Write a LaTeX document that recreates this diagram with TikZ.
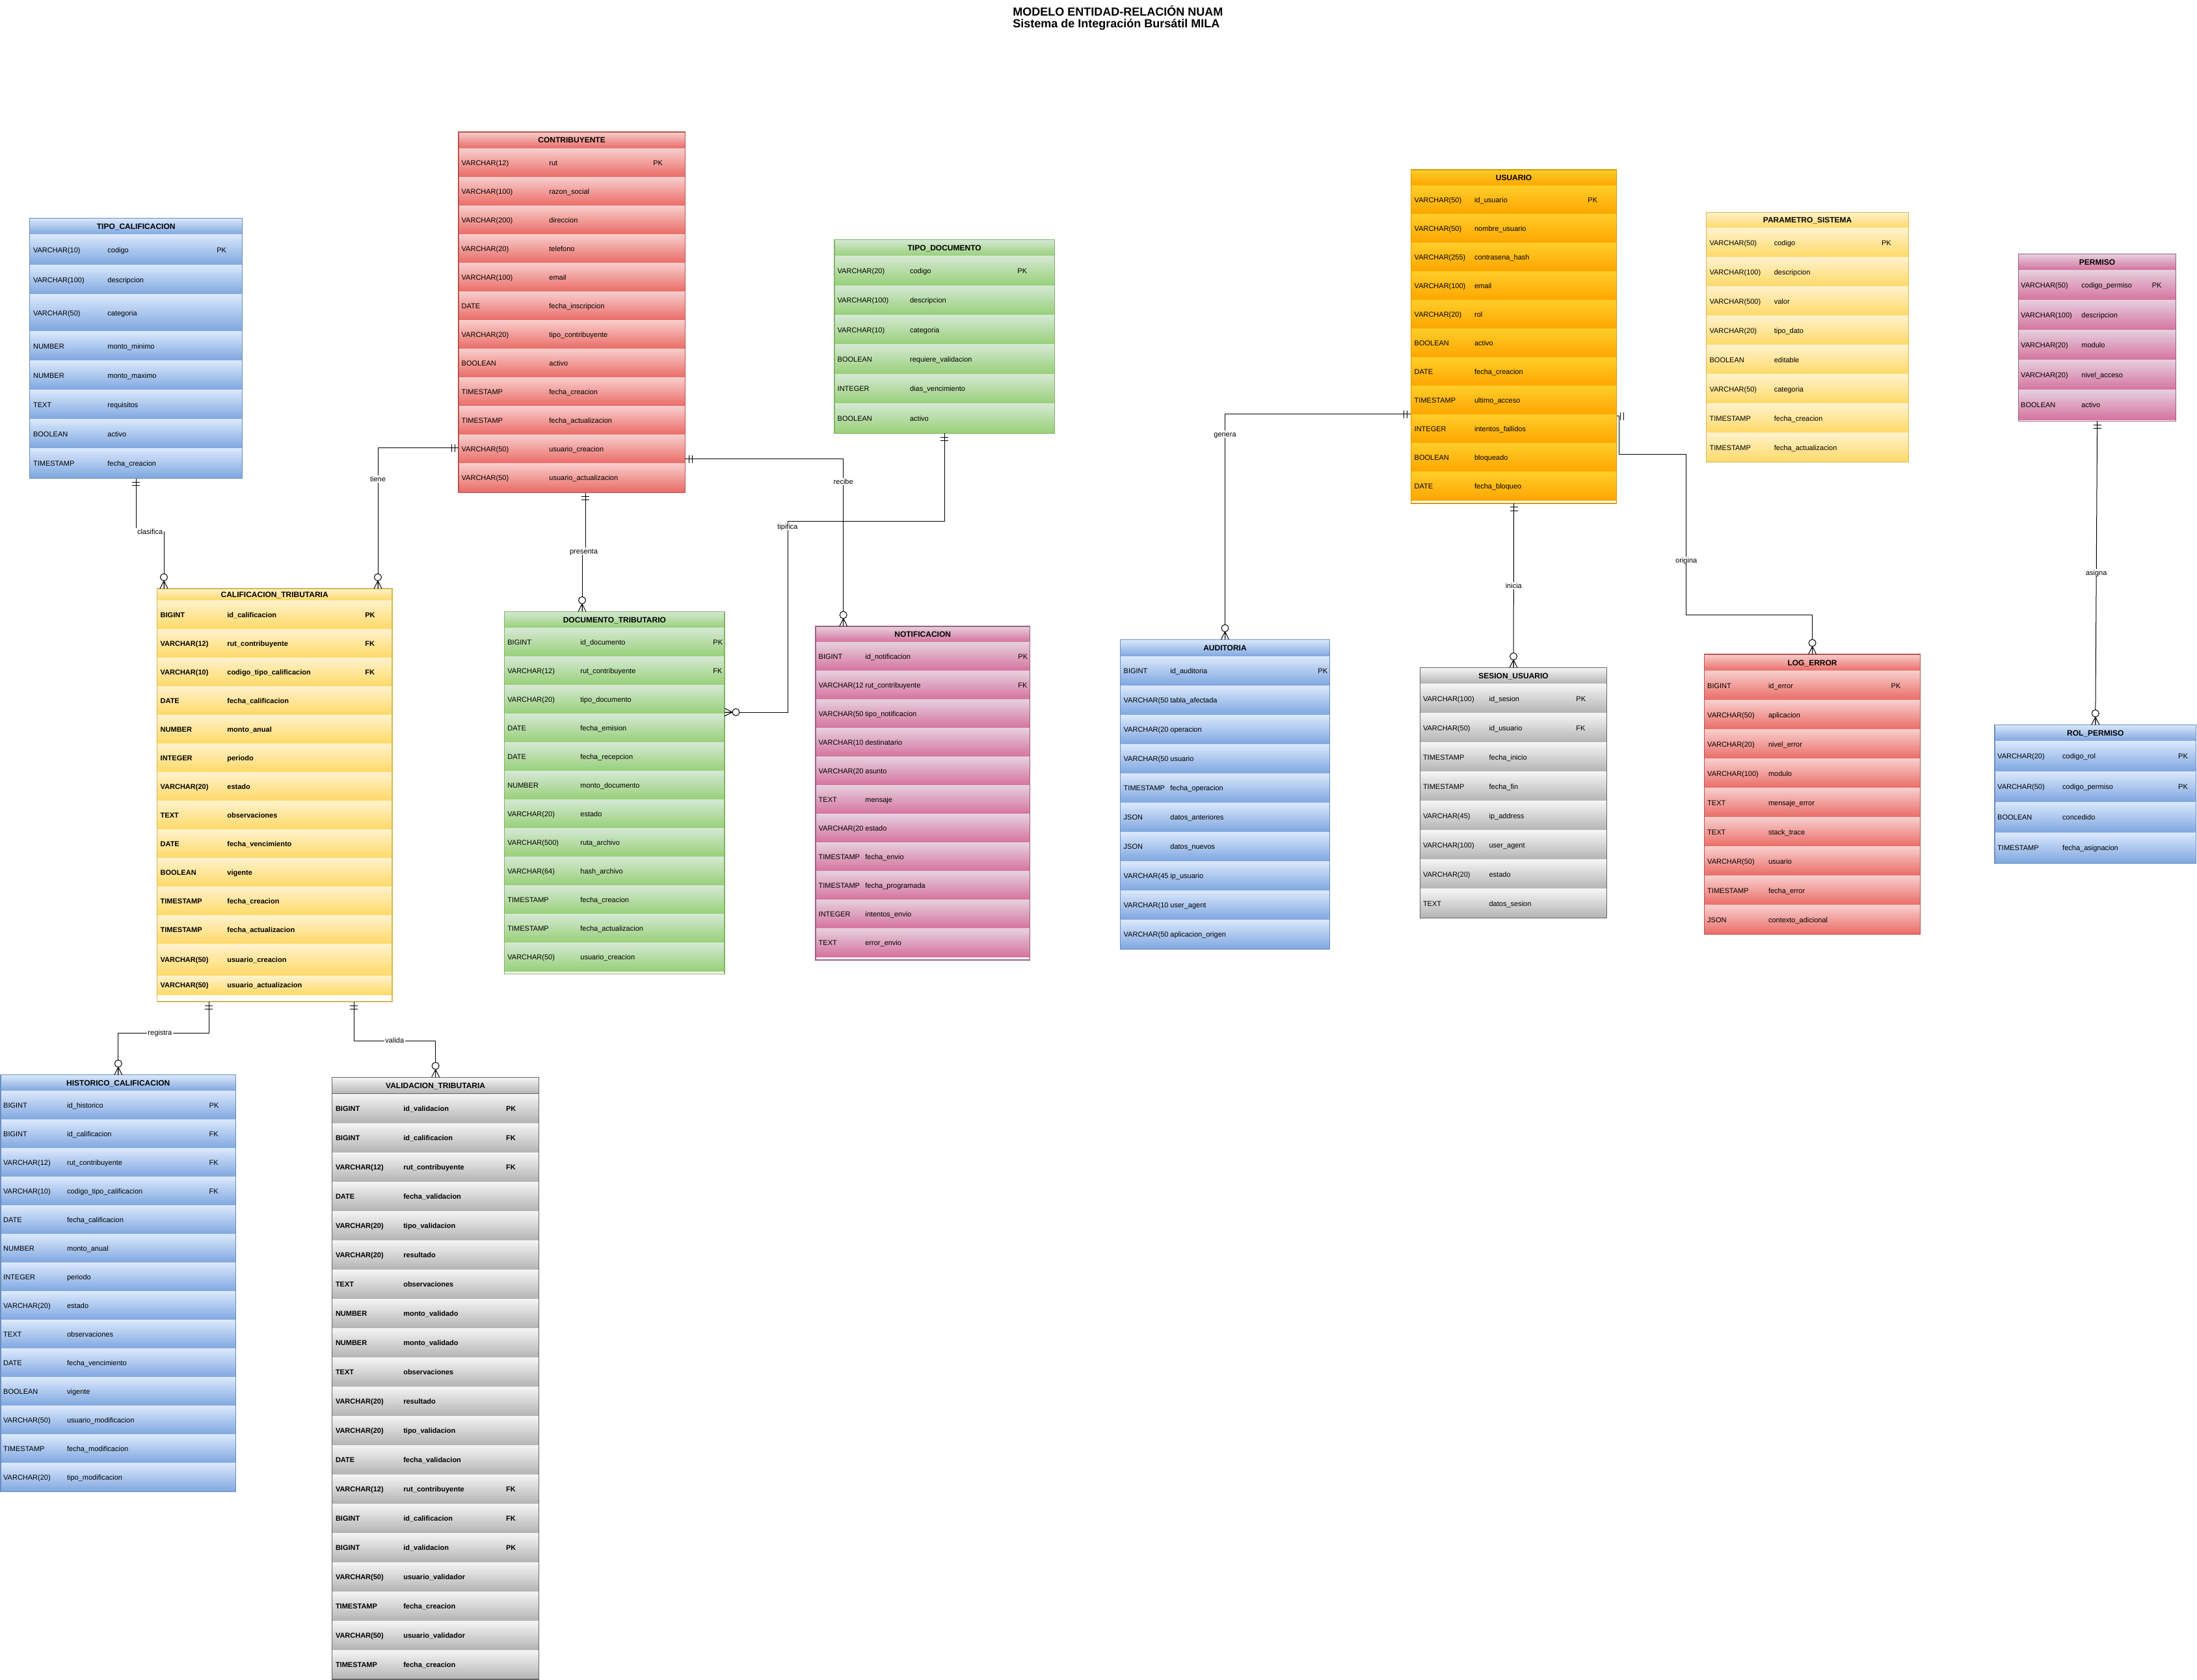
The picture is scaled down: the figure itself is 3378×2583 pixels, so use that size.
\documentclass[tikz,border=0pt]{standalone}
\usepackage{fontspec}
\setmainfont{Liberation Sans}
\usetikzlibrary{calc,fit}

% colour schemes: row gradient top, row gradient bottom, outline
\definecolor{bluetop}{HTML}{DAE8FC}\definecolor{bluebot}{HTML}{7EA6E0}\definecolor{blueline}{HTML}{6C8EBF}
\definecolor{redtop}{HTML}{F8CECC}\definecolor{redbot}{HTML}{EA6B66}\definecolor{redline}{HTML}{B85450}
\definecolor{greentop}{HTML}{D5E8D4}\definecolor{greenbot}{HTML}{97D077}\definecolor{greenline}{HTML}{82B366}
\definecolor{yellowtop}{HTML}{FFF2CC}\definecolor{yellowbot}{HTML}{FFD966}\definecolor{yellowline}{HTML}{D6B656}
\definecolor{orangetop}{HTML}{FFCD28}\definecolor{orangebot}{HTML}{FFA500}\definecolor{orangeline}{HTML}{D79B00}
\definecolor{pinktop}{HTML}{E6D0DE}\definecolor{pinkbot}{HTML}{D5739D}\definecolor{pinkline}{HTML}{996185}
\definecolor{graytop}{HTML}{F5F5F5}\definecolor{graybot}{HTML}{B3B3B3}\definecolor{grayline}{HTML}{666666}

\tikzset{
  er title/.style={font=\bfseries\fontsize{6}{7}\selectfont,inner sep=0pt,text height=4.3pt,text depth=0pt},
  er text/.style={font=\erff\fontsize{5.5}{6.5}\selectfont,anchor=west,inner sep=0pt,text height=3.94pt,text depth=0pt},
  er border/.style={line width=0.55pt},
  er edge/.style={line width=0.5pt,draw=black},
  er label/.style={font=\fontsize{5.5}{6.5}\selectfont,fill=white,inner sep=0.8pt,text height=3.94pt,text depth=0pt},
}

\newcounter{errow}
\newcommand{\erff}{\mdseries}

% start a table: name, title, left, top, width, header height, scheme
\newcommand{\ertab}[7]{%
  \def\tn{#1}\def\tx{#3}\def\ty{#4}\def\tw{#5}%
  \edef\tcolT{#7top}\edef\tcolB{#7bot}\edef\tcolL{#7line}%
  \shade[top color=\tcolT,bottom color=\tcolB] (#3,#4) rectangle ++(#5,#6);
  \draw[draw=\tcolL,er border] (#3,#4+#6) -- ++(#5,0);
  \node[er title] (#1-title) at (#3+#5/2,#4+#6/2) {#2};
  \pgfmathsetmacro\cury{#4+#6}%
  \setcounter{errow}{0}%
}
% one column row: [height], type, name, key
\newcommand{\erfld}[4][\rh]{%
  \stepcounter{errow}%
  \shade[top color=\tcolT,bottom color=\tcolB] (\tx,\cury) rectangle ++(\tw,#1);
  \node[er text] (\tn-\arabic{errow}-a) at (\tx+\ca,\cury+#1/2) {#2};
  \node[er text] (\tn-\arabic{errow}-b) at (\tx+\cb,\cury+#1/2) {#3};
  \node[er text] (\tn-\arabic{errow}-c) at (\tx+\cc,\cury+#1/2) {#4};
  \pgfmathsetmacro\cury{\cury+#1}%
}
% close a table: [extra space below the last row]
\newcommand{\erend}[1][0]{%
  \pgfmathsetmacro\boxb{\cury+#1}%
  \draw[draw=\tcolL,er border] (\tx,\ty) rectangle (\tx+\tw,\boxb);
  \coordinate (\tn-nw) at (\tx,\ty);
  \coordinate (\tn-se) at (\tx+\tw,\boxb);
  \node[fit=(\tn-nw)(\tn-se),inner sep=0pt,outer sep=0pt] (\tn) {};
}
% relationship ends: point, outward direction
\newcommand{\erone}[2]{\begin{scope}[shift={#1},rotate=#2]
  \draw[er edge] (6,-6) -- (6,6) (11,-6) -- (11,6);\end{scope}}
\newcommand{\ermany}[2]{\begin{scope}[shift={#1},rotate=#2]
  \draw[er edge] (0,-6) -- (12,0) -- (0,6) (0,0) -- (12,0);
  \draw[er edge,fill=white] (17.5,0) circle[radius=5.5];\end{scope}}

\begin{document}
\begin{tikzpicture}[x=0.5pt,y=-0.5pt]
\useasboundingbox (0,0) rectangle (3378,2583);
\fill[white] (0,0) rectangle (3378,2583);

\node[anchor=base west,font=\bfseries\fontsize{9}{10}\selectfont,inner sep=0pt] (title1) at (1557,25) {MODELO ENTIDAD-RELACIÓN NUAM};
\node[anchor=base west,font=\bfseries\fontsize{9}{10}\selectfont,inner sep=0pt] (title2) at (1557,43) {Sistema de Integración Bursátil MILA};

% ---------------- TIPO_CALIFICACION
\def\rh{45}\def\ca{5}\def\cb{119.3}\def\cc{287.3}\let\erff\mdseries
\ertab{tcal}{TIPO\_CALIFICACION}{45.7}{335.7}{327}{25}{blue}
\erfld[47]{VARCHAR(10)}{codigo}{PK}
\erfld{VARCHAR(100)}{descripcion}{}
\erfld[57]{VARCHAR(50)}{categoria}{}
\erfld{NUMBER}{monto\_minimo}{}
\erfld{NUMBER}{monto\_maximo}{}
\erfld{TEXT}{requisitos}{}
\erfld{BOOLEAN}{activo}{}
\erfld{TIMESTAMP}{fecha\_creacion}{}
\erend[1]

% ---------------- CONTRIBUYENTE
\def\rh{44}\def\ca{4.3}\def\cb{139}\def\cc{299}\let\erff\mdseries
\ertab{contrib}{CONTRIBUYENTE}{705}{203}{348.3}{25.4}{red}
\erfld{VARCHAR(12)}{rut}{PK}
\erfld{VARCHAR(100)}{razon\_social}{}
\erfld{VARCHAR(200)}{direccion}{}
\erfld{VARCHAR(20)}{telefono}{}
\erfld{VARCHAR(100)}{email}{}
\erfld{DATE}{fecha\_inscripcion}{}
\erfld{VARCHAR(20)}{tipo\_contribuyente}{}
\erfld{BOOLEAN}{activo}{}
\erfld{TIMESTAMP}{fecha\_creacion}{}
\erfld{TIMESTAMP}{fecha\_actualizacion}{}
\erfld{VARCHAR(50)}{usuario\_creacion}{}
\erfld{VARCHAR(50)}{usuario\_actualizacion}{}
\erend[1.5]

% ---------------- CALIFICACION_TRIBUTARIA
\def\rh{44}\def\ca{5}\def\cb{107.7}\def\cc{319.7}\let\erff\bfseries
\ertab{calif}{CALIFICACION\_TRIBUTARIA}{241.3}{905}{361.7}{18.5}{yellow}
\erfld{BIGINT}{id\_calificacion}{PK}
\erfld{VARCHAR(12)}{rut\_contribuyente}{FK}
\erfld{VARCHAR(10)}{codigo\_tipo\_calificacion}{FK}
\erfld{DATE}{fecha\_calificacion}{}
\erfld{NUMBER}{monto\_anual}{}
\erfld{INTEGER}{periodo}{}
\erfld{VARCHAR(20)}{estado}{}
\erfld{TEXT}{observaciones}{}
\erfld{DATE}{fecha\_vencimiento}{}
\erfld{BOOLEAN}{vigente}{}
\erfld{TIMESTAMP}{fecha\_creacion}{}
\erfld{TIMESTAMP}{fecha\_actualizacion}{}
\erfld[49]{VARCHAR(50)}{usuario\_creacion}{}
\erfld[29]{VARCHAR(50)}{usuario\_actualizacion}{}
\erend[10.5]

% ---------------- DOCUMENTO_TRIBUTARIO
\def\rh{44}\def\ca{4.3}\def\cb{116.3}\def\cc{320.3}\let\erff\mdseries
\ertab{doc}{DOCUMENTO\_TRIBUTARIO}{775.7}{940.4}{338.3}{25.2}{green}
\erfld{BIGINT}{id\_documento}{PK}
\erfld{VARCHAR(12)}{rut\_contribuyente}{FK}
\erfld{VARCHAR(20)}{tipo\_documento}{}
\erfld{DATE}{fecha\_emision}{}
\erfld{DATE}{fecha\_recepcion}{}
\erfld{NUMBER}{monto\_documento}{}
\erfld{VARCHAR(20)}{estado}{}
\erfld{VARCHAR(500)}{ruta\_archivo}{}
\erfld{VARCHAR(64)}{hash\_archivo}{}
\erfld{TIMESTAMP}{fecha\_creacion}{}
\erfld{TIMESTAMP}{fecha\_actualizacion}{}
\erfld{VARCHAR(50)}{usuario\_creacion}{}
\erend[3.5]

% ---------------- TIPO_DOCUMENTO
\def\rh{45.4}\def\ca{4.3}\def\cb{115.7}\def\cc{281}\let\erff\mdseries
\ertab{tdoc}{TIPO\_DOCUMENTO}{1283}{368.7}{338.3}{25}{green}
\erfld{VARCHAR(20)}{codigo}{PK}
\erfld{VARCHAR(100)}{descripcion}{}
\erfld{VARCHAR(10)}{categoria}{}
\erfld{BOOLEAN}{requiere\_validacion}{}
\erfld{INTEGER}{dias\_vencimiento}{}
\erfld{BOOLEAN}{activo}{}
\erend

% ---------------- NOTIFICACION
\def\rh{44}\def\ca{4.3}\def\cb{76}\def\cc{311}\let\erff\mdseries
\ertab{notif}{NOTIFICACION}{1254}{963}{329.3}{24.3}{pink}
\erfld{BIGINT}{id\_notificacion}{PK}
\erfld{VARCHAR(12}{rut\_contribuyente}{FK}
\erfld{VARCHAR(50}{tipo\_notificacion}{}
\erfld{VARCHAR(10}{destinatario}{}
\erfld{VARCHAR(20}{asunto}{}
\erfld{TEXT}{mensaje}{}
\erfld{VARCHAR(20}{estado}{}
\erfld{TIMESTAMP}{fecha\_envio}{}
\erfld{TIMESTAMP}{fecha\_programada}{}
\erfld{INTEGER}{intentos\_envio}{}
\erfld{TEXT}{error\_envio}{}
\erend[4.7]

% ---------------- AUDITORIA
\def\rh{45}\def\ca{4.6}\def\cb{76.3}\def\cc{303.3}\let\erff\mdseries
\ertab{audit}{AUDITORIA}{1722.7}{983.3}{321.6}{26}{blue}
\erfld{BIGINT}{id\_auditoria}{PK}
\erfld{VARCHAR(50}{tabla\_afectada}{}
\erfld{VARCHAR(20}{operacion}{}
\erfld{VARCHAR(50}{usuario}{}
\erfld{TIMESTAMP}{fecha\_operacion}{}
\erfld{JSON}{datos\_anteriores}{}
\erfld{JSON}{datos\_nuevos}{}
\erfld{VARCHAR(45}{ip\_usuario}{}
\erfld{VARCHAR(10}{user\_agent}{}
\erfld{VARCHAR(50}{aplicacion\_origen}{}
\erend

% ---------------- USUARIO
\def\rh{44}\def\ca{5}\def\cb{97.4}\def\cc{271.7}\let\erff\mdseries
\ertab{usuario}{USUARIO}{2169.3}{261}{316.4}{24.8}{orange}
\erfld{VARCHAR(50)}{id\_usuario}{PK}
\erfld{VARCHAR(50)}{nombre\_usuario}{}
\erfld{VARCHAR(255)}{contrasena\_hash}{}
\erfld{VARCHAR(100)}{email}{}
\erfld{VARCHAR(20)}{rol}{}
\erfld{BOOLEAN}{activo}{}
\erfld{DATE}{fecha\_creacion}{}
\erfld{TIMESTAMP}{ultimo\_acceso}{}
\erfld{INTEGER}{intentos\_fallidos}{}
\erfld{BOOLEAN}{bloqueado}{}
\erfld{DATE}{fecha\_bloqueo}{}
\erend[4.2]

% ---------------- PARAMETRO_SISTEMA
\def\rh{45}\def\ca{4.6}\def\cb{103.8}\def\cc{269}\let\erff\mdseries
\ertab{param}{PARAMETRO\_SISTEMA}{2623.6}{326.3}{311}{24.4}{yellow}
\erfld{VARCHAR(50)}{codigo}{PK}
\erfld{VARCHAR(100)}{descripcion}{}
\erfld{VARCHAR(500)}{valor}{}
\erfld{VARCHAR(20)}{tipo\_dato}{}
\erfld{BOOLEAN}{editable}{}
\erfld{VARCHAR(50)}{categoria}{}
\erfld{TIMESTAMP}{fecha\_creacion}{}
\erfld{TIMESTAMP}{fecha\_actualizacion}{}
\erend

% ---------------- PERMISO
\def\rh{46}\def\ca{3.2}\def\cb{96.4}\def\cc{204.8}\let\erff\mdseries
\ertab{permiso}{PERMISO}{3103.6}{390.7}{242}{24.6}{pink}
\erfld{VARCHAR(50)}{codigo\_permiso}{PK}
\erfld{VARCHAR(100)}{descripcion}{}
\erfld{VARCHAR(20)}{modulo}{}
\erfld{VARCHAR(20)}{nivel\_acceso}{}
\erfld{BOOLEAN}{activo}{}
\erend[2]

% ---------------- SESION_USUARIO
\def\rh{45}\def\ca{3.8}\def\cb{105.4}\def\cc{239.2}\let\erff\mdseries
\ertab{sesion}{SESION\_USUARIO}{2183.8}{1026.7}{286.5}{25}{gray}
\erfld{VARCHAR(100)}{id\_sesion}{PK}
\erfld{VARCHAR(50)}{id\_usuario}{FK}
\erfld{TIMESTAMP}{fecha\_inicio}{}
\erfld{TIMESTAMP}{fecha\_fin}{}
\erfld{VARCHAR(45)}{ip\_address}{}
\erfld{VARCHAR(100)}{user\_agent}{}
\erfld{VARCHAR(20)}{estado}{}
\erfld{TEXT}{datos\_sesion}{}
\erend

% ---------------- LOG_ERROR
\def\rh{45}\def\ca{4}\def\cb{97.8}\def\cc{286.5}\let\erff\mdseries
\ertab{logerr}{LOG\_ERROR}{2620.8}{1006}{331.5}{25.7}{red}
\erfld{BIGINT}{id\_error}{PK}
\erfld{VARCHAR(50)}{aplicacion}{}
\erfld{VARCHAR(20)}{nivel\_error}{}
\erfld{VARCHAR(100)}{modulo}{}
\erfld{TEXT}{mensaje\_error}{}
\erfld{TEXT}{stack\_trace}{}
\erfld{VARCHAR(50)}{usuario}{}
\erfld{TIMESTAMP}{fecha\_error}{}
\erfld{JSON}{contexto\_adicional}{}
\erend

% ---------------- ROL_PERMISO
\def\rh{47}\def\ca{3.8}\def\cb{103.8}\def\cc{281.8}\let\erff\mdseries
\ertab{rolp}{ROL\_PERMISO}{3067}{1114.3}{309.5}{25}{blue}
\erfld{VARCHAR(20)}{codigo\_rol}{PK}
\erfld{VARCHAR(50)}{codigo\_permiso}{PK}
\erfld{BOOLEAN}{concedido}{}
\erfld{TIMESTAMP}{fecha\_asignacion}{}
\erend

% ---------------- HISTORICO_CALIFICACION
\def\rh{44}\def\ca{3.8}\def\cb{101.7}\def\cc{320.3}\let\erff\mdseries
\ertab{hist}{HISTORICO\_CALIFICACION}{1}{1652.8}{361.6}{25}{blue}
\erfld{BIGINT}{id\_historico}{PK}
\erfld{BIGINT}{id\_calificacion}{FK}
\erfld{VARCHAR(12)}{rut\_contribuyente}{FK}
\erfld{VARCHAR(10)}{codigo\_tipo\_calificacion}{FK}
\erfld{DATE}{fecha\_calificacion}{}
\erfld{NUMBER}{monto\_anual}{}
\erfld{INTEGER}{periodo}{}
\erfld{VARCHAR(20)}{estado}{}
\erfld{TEXT}{observaciones}{}
\erfld{DATE}{fecha\_vencimiento}{}
\erfld{BOOLEAN}{vigente}{}
\erfld{VARCHAR(50)}{usuario\_modificacion}{}
\erfld{TIMESTAMP}{fecha\_modificacion}{}
\erfld{VARCHAR(20)}{tipo\_modificacion}{}
\erend

% ---------------- VALIDACION_TRIBUTARIA
\def\rh{45}\def\ca{4.8}\def\cb{109.1}\def\cc{266.9}\let\erff\bfseries
\ertab{valid}{VALIDACION\_TRIBUTARIA}{510.8}{1656.3}{317.7}{25.7}{gray}
\erfld{BIGINT}{id\_validacion}{PK}
\erfld{BIGINT}{id\_calificacion}{FK}
\erfld{VARCHAR(12)}{rut\_contribuyente}{FK}
\erfld{DATE}{fecha\_validacion}{}
\erfld{VARCHAR(20)}{tipo\_validacion}{}
\erfld{VARCHAR(20)}{resultado}{}
\erfld{TEXT}{observaciones}{}
\erfld{NUMBER}{monto\_validado}{}
\erfld{NUMBER}{monto\_validado}{}
\erfld{TEXT}{observaciones}{}
\erfld{VARCHAR(20)}{resultado}{}
\erfld{VARCHAR(20)}{tipo\_validacion}{}
\erfld{DATE}{fecha\_validacion}{}
\erfld{VARCHAR(12)}{rut\_contribuyente}{FK}
\erfld{BIGINT}{id\_calificacion}{FK}
\erfld{BIGINT}{id\_validacion}{PK}
\erfld{VARCHAR(50)}{usuario\_validador}{}
\erfld{TIMESTAMP}{fecha\_creacion}{}
\erfld{VARCHAR(50)}{usuario\_validador}{}
\erfld{TIMESTAMP}{fecha\_creacion}{}
\erend

% ---------------- relationships
\draw[er edge] (tcal.south) -- ++(0,82) -| node[er label,pos=0.25] (lbl-clasifica) {clasifica} ($(calif.north west)+(10.7,0)$);
\draw[er edge] ($(contrib.north west)+(0,486)$) -| node[er label,pos=0.61] (lbl-tiene) {tiene} ($(calif.north east)+(-22,0)$);
\draw[er edge] ($(contrib.south west)+(195,0)$) -- ++(0,90) -| node[er label,pos=0.25] (lbl-presenta) {presenta} ($(doc.north west)+(119.3,0)$);
\draw[er edge] ($(contrib.north east)+(0,503)$) -| node[er label,pos=0.568] (lbl-recibe) {recibe} ($(notif.north west)+(42.7,0)$);
\draw[er edge] (tdoc.south) -- ++(0,135) -| node[er label,pos=0.515] (lbl-tipifica) {tipifica} ($(doc.north east)+(97,154.6)$) -- ($(doc.north east)+(0,154.6)$);
\draw[er edge] ($(usuario.north west)+(0,375.6)$) -| node[er label,pos=0.545] (lbl-genera) {genera} (audit.north);
\draw[er edge] (usuario.south) -- node[er label] (lbl-inicia) {inicia} (sesion.north);
\draw[er edge] ($(usuario.north east)+(0,379)$) -- ++(4,0) -- ++(0,59) -| node[er label,pos=0.83] (lbl-origina) {origina} ++(103,246.6) -| (logerr.north);
\draw[er edge] (permiso.south) -- node[er label] (lbl-asigna) {asigna} (rolp.north);
\draw[er edge] ($(calif.south west)+(79.7,0)$) -- ++(0,48) -| node[er label,pos=0.27] (lbl-registra) {registra} (hist.north);
\draw[er edge] ($(calif.south west)+(302.7,0)$) -- ++(0,60) -| node[er label,pos=0.25] (lbl-valida) {valida} (valid.north);

% cardinality marks
\erone{(tcal.south)}{270}
\ermany{($(calif.north west)+(10.7,0)$)}{90}
\erone{($(contrib.north west)+(0,486)$)}{180}
\ermany{($(calif.north east)+(-22,0)$)}{90}
\erone{($(contrib.south west)+(195,0)$)}{270}
\ermany{($(doc.north west)+(119.3,0)$)}{90}
\erone{($(contrib.north east)+(0,503)$)}{0}
\ermany{($(notif.north west)+(42.7,0)$)}{90}
\erone{(tdoc.south)}{270}
\ermany{($(doc.north east)+(0,154.6)$)}{0}
\erone{($(usuario.north west)+(0,375.6)$)}{180}
\ermany{(audit.north)}{90}
\erone{(usuario.south)}{270}
\ermany{(sesion.north)}{90}
\erone{($(usuario.north east)+(0,379)$)}{0}
\ermany{(logerr.north)}{90}
\erone{(permiso.south)}{270}
\ermany{(rolp.north)}{90}
\erone{($(calif.south west)+(79.7,0)$)}{270}
\ermany{(hist.north)}{90}
\erone{($(calif.south west)+(302.7,0)$)}{270}
\ermany{(valid.north)}{90}
\end{tikzpicture}
\end{document}
